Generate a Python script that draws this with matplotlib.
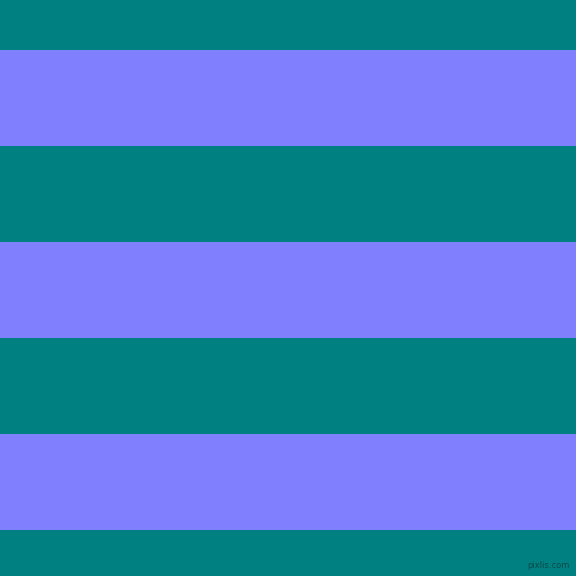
import matplotlib
matplotlib.use('Agg')
import matplotlib.pyplot as plt

# stripe edges in pixels from the top, and their colours
edges = [0, 50, 146, 242, 338, 434, 530, 576]
colours = ['#008080', '#8080ff', '#008080', '#8080ff', '#008080', '#8080ff', '#008080']


def show():
    fig = plt.figure(figsize=(5.76, 5.76), dpi=100)
    ax = fig.add_axes([0, 0, 1, 1])

    for i in range(len(colours)):
        top = edges[i]
        h = edges[i + 1] - edges[i]
        ax.barh(top, 576, height=h, left=0, align='edge', color=colours[i], linewidth=0)

    ax.set_xlim(0, 576)
    ax.set_ylim(576, 0)
    ax.axis('off')

    ax.text(570, 570, 'pixlis.com', ha='right', va='bottom', fontsize=6, color='#0a4a4a')

    fig.savefig('out.png', dpi=100)


if __name__ == '__main__':
    show()
